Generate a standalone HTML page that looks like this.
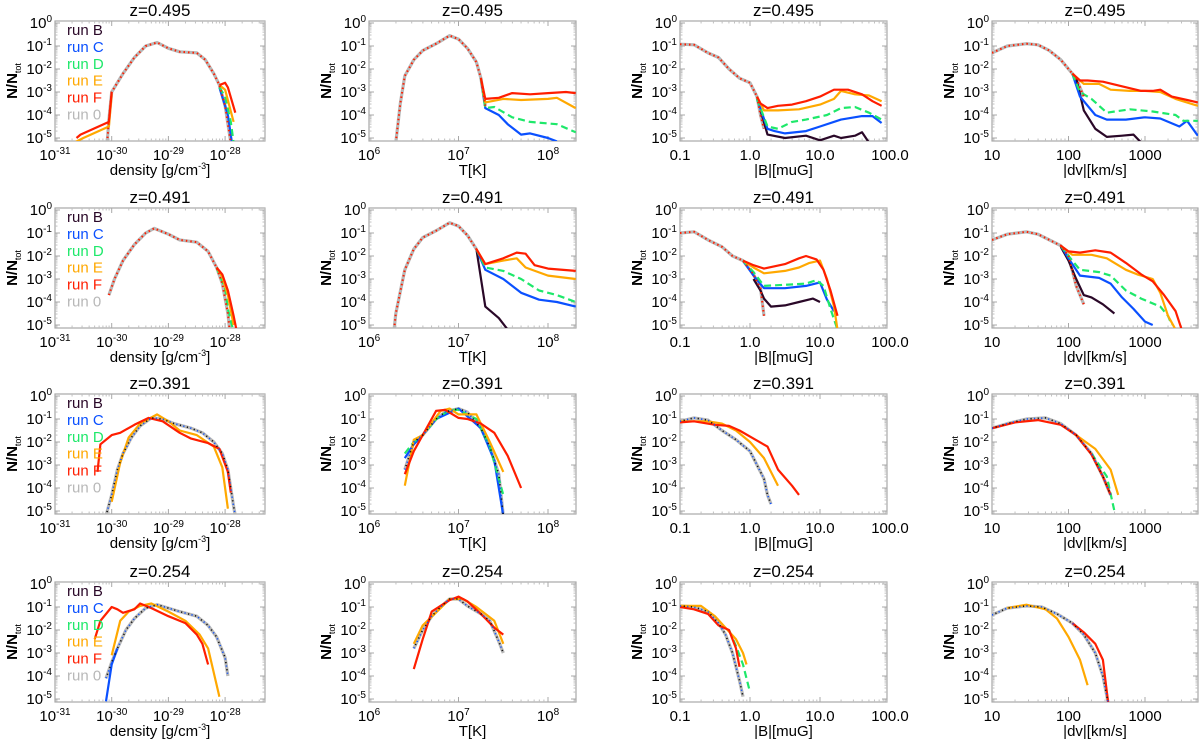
<!DOCTYPE html>
<html><head><meta charset="utf-8"><style>
html,body{margin:0;padding:0;background:#fff;}
svg{display:block;font-family:"Liberation Sans",Arial,sans-serif;}
</style></head><body>
<svg id="chart" width="1200" height="740" viewBox="0 0 1200 740" xmlns="http://www.w3.org/2000/svg"></svg>
<script>
// ---- data: [log10 x, log10 y] points ----
// row 1 (z=0.495)
const r1c1_0=[[-30.08,-5.2],[-30.05,-4.2],[-30.0,-3.0],[-29.8,-2.2],[-29.6,-1.5],[-29.4,-1.0],[-29.2,-0.85],[-29.0,-1.1],[-28.8,-1.25],[-28.5,-1.3],[-28.35,-1.6],[-28.2,-2.2],[-28.1,-2.7],[-28.0,-3.6],[-27.9,-5.2]];
const r1c1_F=[[-30.62,-5.0],[-30.55,-4.85],[-30.05,-4.3],[-30.0,-3.0]];
const r1c1_E=[[-30.66,-5.2],[-30.5,-5.0],[-30.05,-4.5],[-30.0,-3.1]];
const r1c1_Ft=[[-28.1,-2.7],[-28.0,-2.6],[-27.95,-2.8],[-27.82,-3.9]];
const r1c1_Et=[[-28.1,-2.7],[-28.0,-2.9],[-27.85,-4.3]];
const r1c1_Dt=[[-28.1,-2.8],[-28.0,-3.2],[-27.9,-4.3],[-27.85,-5.2]];
const r1c1_Ct=[[-28.1,-2.8],[-27.95,-4.0],[-27.88,-5.2]];
const r1c2_0=[[6.3,-5.2],[6.35,-3.5],[6.4,-2.3],[6.5,-1.6],[6.6,-1.2],[6.75,-0.9],[6.9,-0.55],[7.0,-0.7],[7.1,-1.1],[7.2,-1.7],[7.25,-2.4],[7.3,-3.6]];
const r1c2_F=[[7.25,-2.4],[7.3,-3.3],[7.45,-3.25],[7.6,-3.05],[7.8,-3.1],[8.0,-3.05],[8.2,-3.0],[8.31,-3.05]];
const r1c2_E=[[7.25,-2.4],[7.3,-3.45],[7.5,-3.3],[7.7,-3.35],[8.0,-3.3],[8.1,-3.25],[8.31,-3.7]];
const r1c2_D=[[7.25,-2.4],[7.3,-3.7],[7.4,-3.65],[7.6,-4.1],[7.8,-4.3],[8.1,-4.4],[8.31,-4.75]];
const r1c2_C=[[7.25,-2.4],[7.3,-3.7],[7.45,-4.0],[7.55,-4.4],[7.7,-4.85],[7.8,-4.8],[8.0,-5.0],[8.1,-5.15]];
const r1c3_0=[[-1,-0.92],[-0.8,-0.95],[-0.6,-1.3],[-0.45,-1.5],[-0.3,-2.0],[-0.15,-2.4],[0,-2.6],[0.1,-3.2],[0.15,-4.0],[0.2,-4.6]];
const r1c3_F=[[0.1,-3.2],[0.15,-3.5],[0.25,-3.7],[0.4,-3.6],[0.6,-3.55],[0.8,-3.4],[1.0,-3.2],[1.2,-2.9],[1.4,-2.9],[1.6,-3.1],[1.75,-3.4],[1.88,-3.6]];
const r1c3_E=[[0.1,-3.2],[0.2,-3.8],[0.4,-3.8],[0.7,-3.75],[1.0,-3.55],[1.2,-3.3],[1.3,-2.95],[1.5,-3.1],[1.7,-3.15],[1.88,-3.4]];
const r1c3_D=[[0.1,-3.3],[0.25,-4.5],[0.4,-4.6],[0.6,-4.3],[0.8,-4.2],[1.1,-4.0],[1.3,-3.7],[1.5,-3.65],[1.7,-3.9],[1.88,-4.2]];
const r1c3_C=[[0.1,-3.3],[0.25,-4.6],[0.35,-4.7],[0.5,-4.8],[0.8,-4.7],[1.0,-4.5],[1.3,-4.2],[1.6,-4.05],[1.75,-4.05],[1.88,-4.35]];
const r1c3_B=[[0.15,-3.8],[0.25,-4.85],[0.5,-5.0],[0.8,-4.9],[1.0,-5.1],[1.2,-4.9],[1.3,-5.0],[1.5,-4.9],[1.6,-4.75],[1.7,-5.2]];
const r1c4_0=[[1,-1.3],[1.2,-1.0],[1.45,-0.9],[1.6,-0.95],[1.75,-1.2],[1.9,-1.6],[2.0,-2.0],[2.1,-2.4],[2.2,-3.2]];
const r1c4_F=[[2.05,-2.2],[2.15,-2.5],[2.25,-2.5],[2.45,-2.55],[2.7,-2.75],[2.95,-2.95],[3.1,-2.95],[3.2,-2.9],[3.35,-3.2],[3.55,-3.35],[3.69,-3.45]];
const r1c4_E=[[2.05,-2.2],[2.2,-2.65],[2.4,-2.65],[2.55,-2.9],[2.8,-2.95],[3.0,-2.95],[3.2,-3.0],[3.4,-3.3],[3.69,-3.6]];
const r1c4_D=[[2.05,-2.2],[2.15,-3.0],[2.3,-3.3],[2.5,-3.9],[2.8,-3.75],[3.1,-3.85],[3.4,-4.0],[3.5,-4.25],[3.69,-4.25]];
const r1c4_C=[[2.05,-2.2],[2.15,-3.2],[2.35,-4.0],[2.5,-4.2],[2.75,-4.2],[3.0,-4.1],[3.2,-4.15],[3.45,-4.5],[3.55,-4.25],[3.69,-4.9]];
const r1c4_B=[[2.1,-2.4],[2.2,-3.8],[2.35,-4.6],[2.5,-4.95],[2.7,-4.9],[2.85,-4.85],[2.95,-5.2]];
// row 2 (z=0.491)
const r2c1_0=[[-30.05,-3.7],[-29.95,-3.0],[-29.8,-2.2],[-29.6,-1.5],[-29.4,-1.0],[-29.25,-0.8],[-29.0,-1.05],[-28.8,-1.3],[-28.5,-1.4],[-28.3,-1.8],[-28.15,-2.5],[-28.05,-3.2],[-27.95,-4.5],[-27.92,-5.2]];
const r2c1_F=[[-28.15,-2.5],[-28.05,-2.8],[-27.95,-3.5],[-27.85,-4.6],[-27.8,-5.2]];
const r2c1_E=[[-28.15,-2.5],[-28.05,-2.9],[-27.95,-3.7],[-27.85,-5.0]];
const r2c1_D=[[-28.15,-2.5],[-28.0,-3.4],[-27.95,-4.3],[-27.86,-5.2]];
const r2c2_0=[[6.28,-5.2],[6.3,-4.5],[6.4,-2.6],[6.5,-1.7],[6.6,-1.2],[6.75,-0.9],[6.9,-0.55],[7.0,-0.7],[7.1,-1.1],[7.2,-1.7]];
const r2c2_F=[[7.2,-1.7],[7.3,-2.35],[7.5,-2.1],[7.65,-1.85],[7.75,-1.9],[7.85,-2.4],[8.0,-2.55],[8.31,-2.65]];
const r2c2_E=[[7.2,-1.7],[7.3,-2.35],[7.5,-2.2],[7.65,-2.1],[7.75,-2.5],[8.0,-2.85],[8.31,-3.0]];
const r2c2_D=[[7.2,-1.7],[7.3,-2.5],[7.5,-2.65],[7.7,-3.0],[7.9,-3.5],[8.1,-3.7],[8.31,-4.0]];
const r2c2_C=[[7.2,-1.7],[7.3,-2.6],[7.5,-3.0],[7.7,-3.6],[7.9,-3.9],[8.1,-4.0],[8.31,-4.2]];
const r2c2_B=[[7.2,-1.7],[7.3,-4.2],[7.45,-4.7],[7.55,-5.2]];
const r2c3_0=[[-1,-1.0],[-0.8,-0.95],[-0.6,-1.3],[-0.4,-1.6],[-0.25,-2.0],[-0.1,-2.2],[0.05,-2.8],[0.15,-3.4],[0.2,-4.6]];
const r2c3_F=[[-0.1,-2.2],[0.05,-2.4],[0.2,-2.55],[0.5,-2.35],[0.7,-2.1],[0.8,-2.0],[0.95,-2.15],[1.05,-2.6],[1.15,-3.5],[1.25,-4.6]];
const r2c3_E=[[-0.1,-2.2],[0.05,-2.5],[0.2,-2.75],[0.5,-2.65],[0.7,-2.5],[0.85,-2.3],[1.0,-2.2],[1.1,-3.0],[1.2,-4.2],[1.25,-5.2]];
const r2c3_D=[[-0.1,-2.2],[0.05,-2.7],[0.2,-3.3],[0.5,-3.25],[0.8,-3.2],[0.95,-3.05],[1.05,-3.3],[1.15,-4.3],[1.25,-5.2]];
const r2c3_C=[[-0.1,-2.2],[0.05,-2.85],[0.2,-3.4],[0.5,-3.4],[0.8,-3.3],[1.0,-3.15],[1.1,-3.9],[1.2,-4.4]];
const r2c3_B=[[0.05,-3.0],[0.15,-3.5],[0.2,-3.85],[0.3,-4.2],[0.5,-4.15],[0.7,-4.0],[0.9,-3.85],[1.0,-4.0]];
const r2c4_0=[[1,-1.3],[1.2,-1.05],[1.45,-0.95],[1.6,-1.05],[1.75,-1.3],[1.9,-1.55],[2.0,-2.0],[2.1,-3.3],[2.2,-4.1]];
const r2c4_F=[[1.9,-1.55],[2.0,-1.8],[2.15,-1.85],[2.35,-1.75],[2.55,-1.85],[2.75,-2.3],[2.95,-2.8],[3.1,-3.1],[3.25,-3.7],[3.4,-4.4],[3.48,-5.2]];
const r2c4_E=[[1.9,-1.55],[2.05,-1.95],[2.3,-1.95],[2.5,-2.1],[2.75,-2.6],[2.9,-2.8],[3.1,-3.0],[3.2,-3.6],[3.3,-4.6],[3.4,-5.2]];
const r2c4_D=[[1.9,-1.55],[2.0,-2.0],[2.15,-2.6],[2.4,-2.7],[2.55,-2.85],[2.75,-3.5],[2.95,-3.85],[3.2,-4.2],[3.3,-4.6],[3.35,-5.0]];
const r2c4_C=[[1.9,-1.55],[2.0,-2.1],[2.15,-2.85],[2.4,-2.95],[2.55,-3.2],[2.7,-3.8],[2.85,-4.3],[3.0,-4.85],[3.1,-5.0]];
const r2c4_B=[[1.9,-1.6],[2.0,-2.2],[2.1,-3.0],[2.2,-3.7],[2.3,-3.8],[2.45,-4.1],[2.6,-4.5]];
// row 3 (z=0.391)
const r3c1_0=[[-30.1,-5.2],[-30.0,-4.3],[-29.9,-3.2],[-29.8,-2.5],[-29.65,-1.8],[-29.5,-1.3],[-29.3,-0.95],[-29.1,-1.0],[-28.9,-1.2],[-28.6,-1.4],[-28.4,-1.6],[-28.2,-2.0],[-28.05,-2.5],[-27.95,-3.2],[-27.85,-4.8],[-27.82,-5.2]];
const r3c1_F=[[-30.25,-3.3],[-30.2,-2.1],[-30.0,-1.7],[-29.85,-1.6],[-29.6,-1.25],[-29.35,-0.95],[-29.1,-1.1],[-28.8,-1.6],[-28.6,-1.85],[-28.3,-2.05],[-28.1,-2.3],[-27.95,-3.3],[-27.9,-4.2]];
const r3c1_E=[[-30.0,-4.6],[-29.85,-2.9],[-29.7,-1.8],[-29.5,-1.2],[-29.2,-0.8],[-29.0,-1.1],[-28.8,-1.5],[-28.5,-1.7],[-28.2,-2.2],[-28.05,-3.1],[-27.95,-4.9]];
const r3c2_0=[[6.4,-3.2],[6.5,-2.0],[6.6,-1.7],[6.75,-1.0],[6.85,-0.7],[7.0,-0.55],[7.1,-0.7],[7.25,-1.4],[7.35,-2.2],[7.45,-3.4],[7.5,-5.2]];
const r3c2_F=[[6.4,-3.4],[6.5,-2.4],[6.6,-1.7],[6.75,-0.65],[6.85,-0.6],[7.0,-0.95],[7.1,-1.0],[7.25,-1.2],[7.4,-1.6],[7.55,-2.6],[7.7,-4.0]];
const r3c2_E=[[6.4,-3.9],[6.5,-1.9],[6.6,-1.7],[6.8,-0.65],[6.9,-0.55],[7.0,-0.8],[7.2,-0.8],[7.35,-2.0],[7.5,-3.3]];
const r3c2_D=[[6.4,-2.5],[6.5,-2.0],[6.6,-1.7],[6.75,-1.0],[6.9,-0.6],[7.0,-0.6],[7.2,-1.0],[7.35,-2.2],[7.5,-4.3]];
const r3c2_C=[[6.4,-2.7],[6.5,-2.1],[6.6,-1.7],[6.75,-1.0],[7.0,-0.55],[7.25,-1.4],[7.4,-2.8],[7.5,-5.2]];
const r3c3_0=[[-1,-1.1],[-0.8,-0.95],[-0.6,-1.05],[-0.4,-1.5],[-0.2,-1.9],[0,-2.4],[0.1,-3.0],[0.2,-3.6],[0.25,-4.3],[0.3,-4.7]];
const r3c3_F=[[-1,-1.15],[-0.8,-1.1],[-0.5,-1.25],[-0.3,-1.3],[-0.15,-1.5],[0.05,-1.85],[0.25,-2.2],[0.4,-3.2],[0.6,-3.9],[0.7,-4.3]];
const r3c3_E=[[-1,-1.1],[-0.6,-1.1],[-0.4,-1.2],[-0.2,-1.5],[0,-2.0],[0.2,-2.7],[0.4,-3.9]];
const r3c4_0=[[1,-1.4],[1.2,-1.2],[1.45,-1.0],[1.7,-0.95],[1.9,-1.2],[2.1,-1.7],[2.3,-2.5],[2.45,-3.5],[2.55,-4.3]];
const r3c4_F=[[1,-1.4],[1.3,-1.15],[1.6,-1.05],[1.9,-1.25],[2.1,-1.7],[2.3,-2.55],[2.45,-3.5],[2.55,-4.3]];
const r3c4_E=[[2.1,-1.7],[2.35,-2.3],[2.55,-3.2],[2.65,-4.3]];
const r3c4_D=[[2.3,-2.5],[2.5,-3.5],[2.6,-5.0]];
// row 4 (z=0.254)
const r4c1_0=[[-30.1,-4.1],[-30.0,-3.4],[-29.9,-2.8],[-29.75,-2.0],[-29.6,-1.5],[-29.4,-1.05],[-29.2,-0.9],[-29.0,-1.05],[-28.8,-1.2],[-28.5,-1.4],[-28.3,-1.8],[-28.15,-2.3],[-28.0,-3.2],[-27.95,-4.0]];
const r4c1_F=[[-30.3,-2.4],[-30.2,-1.6],[-30.0,-1.0],[-29.9,-1.1],[-29.8,-1.25],[-29.6,-1.1],[-29.5,-0.85],[-29.3,-1.05],[-29.0,-1.4],[-28.7,-1.7],[-28.5,-2.2],[-28.4,-2.6],[-28.3,-3.5]];
const r4c1_E=[[-30.0,-3.1],[-29.85,-1.6],[-29.7,-1.2],[-29.5,-0.95],[-29.3,-0.85],[-29.0,-1.2],[-28.7,-1.6],[-28.45,-2.2],[-28.3,-2.8],[-28.1,-4.9]];
const r4c1_C=[[-30.1,-5.1],[-30.0,-3.5],[-29.9,-2.8]];
const r4c2_0=[[6.5,-2.8],[6.6,-2.0],[6.7,-1.4],[6.8,-1.0],[6.9,-0.65],[7.0,-0.65],[7.1,-0.95],[7.25,-1.3],[7.35,-1.6],[7.45,-2.5],[7.5,-3.0]];
const r4c2_F=[[6.5,-3.7],[6.6,-2.4],[6.7,-1.2],[6.9,-0.7],[7.0,-0.55],[7.1,-0.75],[7.25,-1.3],[7.4,-1.9],[7.5,-2.2]];
const r4c2_E=[[6.5,-2.6],[6.6,-1.8],[6.8,-1.05],[6.9,-0.65],[7.05,-0.65],[7.2,-1.0],[7.4,-1.6],[7.5,-2.6]];
const r4c3_0=[[-1,-0.95],[-0.8,-1.0],[-0.6,-1.2],[-0.45,-1.7],[-0.35,-2.2],[-0.25,-3.0],[-0.15,-4.2],[-0.1,-4.9]];
const r4c3_F=[[-1,-1.0],[-0.8,-1.1],[-0.6,-1.3],[-0.45,-1.8],[-0.3,-2.0],[-0.2,-2.8],[-0.15,-3.6]];
const r4c3_E=[[-1,-0.95],[-0.7,-0.95],[-0.5,-1.4],[-0.35,-1.9],[-0.2,-2.4],[-0.1,-3.0],[-0.05,-3.5]];
const r4c3_D=[[-0.3,-2.0],[-0.2,-2.7],[-0.1,-3.5],[0.0,-4.7]];
const r4c4_0=[[1,-1.35],[1.2,-1.05],[1.45,-0.95],[1.65,-1.0],[1.85,-1.3],[2.05,-1.7],[2.2,-2.2],[2.35,-3.0],[2.45,-4.0],[2.52,-5.2]];
const r4c4_F=[[2.05,-1.7],[2.2,-2.1],[2.35,-2.6],[2.45,-3.3],[2.52,-5.2]];
const r4c4_E=[[1.2,-1.05],[1.45,-0.9],[1.7,-1.1],[1.85,-1.5],[2.0,-2.3],[2.15,-3.3],[2.25,-4.4]];

const titles=['z=0.495','z=0.491','z=0.391','z=0.254'];
const xTitles=['density [g/cm⁻³]','T[K]','|B|[muG]','|dv|[km/s]'];
const legendNames=['run B','run C','run D','run E','run F','run 0'];

// ---- layout ----
const NS='http://www.w3.org/2000/svg';
const svg=document.getElementById('chart');
const COLS=[
 {L:55,R:265,x0:-31,ppd:56.7,ticks:[-31,-30,-29,-28],lab:t=>['10',String(t)],min:-31,max:-27.3},
 {L:369,R:576,x0:6,ppd:89.5,ticks:[6,7,8],lab:t=>['10',String(t)],min:6,max:8.31},
 {L:680,R:887,x0:-1,ppd:70,ticks:[-1,0,1,2],lab:t=>[['0.1','1.0','10.0','100.0'][t+1],null],min:-1,max:1.96},
 {L:992,R:1198,x0:1,ppd:76.5,ticks:[1,2,3],lab:t=>[['10','100','1000'][t-1],null],min:1,max:3.69}
];
const TOPS=[21,208,394,582], H=120;
const COLORS={B:'#2a0828',C:'#0a50ff',D:'#1ee86a',E:'#ffa800',F:'#ff1e00','0':'#b8b8b8'};

function el(tag,attrs,parent){const e=document.createElementNS(NS,tag);for(const k in attrs)e.setAttribute(k,attrs[k]);(parent||svg).appendChild(e);return e;}

const panels=[
 [{'0':r1c1_0,F:r1c1_F,E:r1c1_E,Ft:r1c1_Ft,Et:r1c1_Et,Dt:r1c1_Dt,Ct:r1c1_Ct},{'0':r1c2_0,C:r1c2_C,D:r1c2_D,E:r1c2_E,F:r1c2_F},{'0':r1c3_0,B:r1c3_B,C:r1c3_C,D:r1c3_D,E:r1c3_E,F:r1c3_F},{'0':r1c4_0,B:r1c4_B,C:r1c4_C,D:r1c4_D,E:r1c4_E,F:r1c4_F}],
 [{'0':r2c1_0,D:r2c1_D,E:r2c1_E,F:r2c1_F},{'0':r2c2_0,B:r2c2_B,C:r2c2_C,D:r2c2_D,E:r2c2_E,F:r2c2_F},{'0':r2c3_0,B:r2c3_B,C:r2c3_C,D:r2c3_D,E:r2c3_E,F:r2c3_F},{'0':r2c4_0,B:r2c4_B,C:r2c4_C,D:r2c4_D,E:r2c4_E,F:r2c4_F}],
 [{'0':r3c1_0,E:r3c1_E,F:r3c1_F},{'0':r3c2_0,C:r3c2_C,D:r3c2_D,E:r3c2_E,F:r3c2_F},{'0':r3c3_0,E:r3c3_E,F:r3c3_F},{'0':r3c4_0,D:r3c4_D,E:r3c4_E,F:r3c4_F}],
 [{'0':r4c1_0,C:r4c1_C,E:r4c1_E,F:r4c1_F},{'0':r4c2_0,E:r4c2_E,F:r4c2_F},{'0':r4c3_0,D:r4c3_D,E:r4c3_E,F:r4c3_F},{'0':r4c4_0,E:r4c4_E,F:r4c4_F}]
];

let clipId=0;
for(let r=0;r<4;r++){
 for(let c=0;c<4;c++){
  const col=COLS[c], top=TOPS[r], bot=top+H;
  const X=lx=>col.L+col.ppd*(lx-col.x0);
  const Y=ly=>top+2-23*ly;
  const g=el('g',{});
  
  
  const t=el('text',{x:(col.L+col.R)/2,y:top-5,'text-anchor':'middle','font-size':17,fill:'#000'},g);
  t.textContent=titles[r];
  
  
  const fr=el('rect',{x:col.L,y:top,width:col.R-col.L,height:H,fill:'none',stroke:'#a8a8a8','stroke-width':1.2},g);
  
  
  for(let d=0;d>=-5;d--){
   const yy=Y(d);
   el('line',{x1:col.L,x2:col.L+5,y1:yy,y2:yy,stroke:'#a8a8a8'},g);
   el('line',{x1:col.R,x2:col.R-5,y1:yy,y2:yy,stroke:'#a8a8a8'},g);
   for(let m=2;m<10;m++){const ym=Y(d-1+Math.log10(m));if(ym<bot&&ym>top){el('line',{x1:col.L,x2:col.L+2.5,y1:ym,y2:ym,stroke:'#c0c0c0'},g);el('line',{x1:col.R,x2:col.R-2.5,y1:ym,y2:ym,stroke:'#c0c0c0'},g);}}
   const tl=el('text',{x:col.L-3,y:yy+5,'text-anchor':'end','font-size':15,fill:'#000'},g);
   
   
   tl.appendChild(document.createTextNode('10'));
   const sp=el('tspan',{dy:-6,'font-size':10},tl);sp.textContent=String(d);
  }
  for(let d=Math.floor(col.min);d<=Math.ceil(col.max);d++){
   for(let m=1;m<10;m++){const xm=X(d+Math.log10(m));if(xm>=col.L&&xm<=col.R){const len=m===1?5:2.5;el('line',{x1:xm,x2:xm,y1:bot,y2:bot-len,stroke:m===1?'#a8a8a8':'#c0c0c0'},g);el('line',{x1:xm,x2:xm,y1:top,y2:top+len,stroke:m===1?'#a8a8a8':'#c0c0c0'},g);}}
  }
  col.ticks.forEach(tk=>{
   const lab=col.lab(tk);
   const tl=el('text',{x:X(tk),y:bot+19,'text-anchor':'middle','font-size':15,fill:'#000'},g);
   
   
   tl.appendChild(document.createTextNode(lab[0]));
   if(lab[1]!==null){const sp=el('tspan',{dy:-6,'font-size':10},tl);sp.textContent=lab[1];}
  });
  const xt=el('text',{x:(col.L+col.R)/2,y:bot+34,'text-anchor':'middle','font-size':15,fill:'#000'},g);
  
  
  if(c===0){xt.appendChild(document.createTextNode('density [g/cm'));const s=el('tspan',{dy:-6,'font-size':9},xt);s.textContent='-3';const s2=el('tspan',{dy:6},xt);s2.textContent=']';}
  else xt.textContent=xTitles[c];
  const yt=el('text',{x:0,y:0,'text-anchor':'middle','font-size':15,'font-weight':'bold',fill:'#000',transform:'translate('+(col.L-38)+','+(top+H/2)+') rotate(-90)'},g);
  
  
  yt.appendChild(document.createTextNode('N/N'));
  const ys=el('tspan',{dy:4,'font-size':9,'font-weight':'normal'},yt);ys.textContent='tot';
  const cp=el('clipPath',{id:'cp'+(++clipId)},g);
  el('rect',{x:col.L,y:top,width:col.R-col.L,height:H},cp);
  const plot=el('g',{'clip-path':'url(#cp'+clipId+')'},g);
  const P=panels[r][c];
  const draw=(pts,key,style)=>{
   const d=pts.map((p,i)=>(i?'L':'M')+X(p[0]).toFixed(1)+' '+Y(p[1]).toFixed(1)).join(' ');
   const pa=el('path',Object.assign({d:d,fill:'none','stroke-linejoin':'round'},style),plot);
   
   
  };
  if(P['0']){draw(P['0'],'0',{stroke:COLORS['0'],'stroke-width':3.2});}
  const order=['B','C','D','E','F'];
  order.forEach(k=>{
   [P[k],P[k+'t']].forEach(arr=>{
    if(!arr)return;
    const st={stroke:COLORS[k],'stroke-width':2.2};
    if(k==='D')st['stroke-dasharray']='7 4';
    draw(arr,k,st);
   });
  });
  if(P['0']){
   if(r<2){
    draw(P['0'],'overlay',{stroke:COLORS.F,'stroke-width':2,'stroke-dasharray':'1.5 3'});
   } else {
    draw(P['0'],'C-dotted',{stroke:'#0a50ff','stroke-width':1.6,'stroke-dasharray':'1.2 6'});
    draw(P['0'],'B-dotted',{stroke:'#111','stroke-width':1.6,'stroke-dasharray':'1.2 6','stroke-dashoffset':3.5});
   }
  }
  if(c===0){
   const keys=['B','C','D','E','F','0'];
   legendNames.forEach((nm,i)=>{
    const lt=el('text',{x:67,y:top+14+16.9*i,'font-size':15,fill:COLORS[keys[i]]},g);
    
    
    lt.textContent=nm;
   });
  }
 }
}
</script>
</body></html>
